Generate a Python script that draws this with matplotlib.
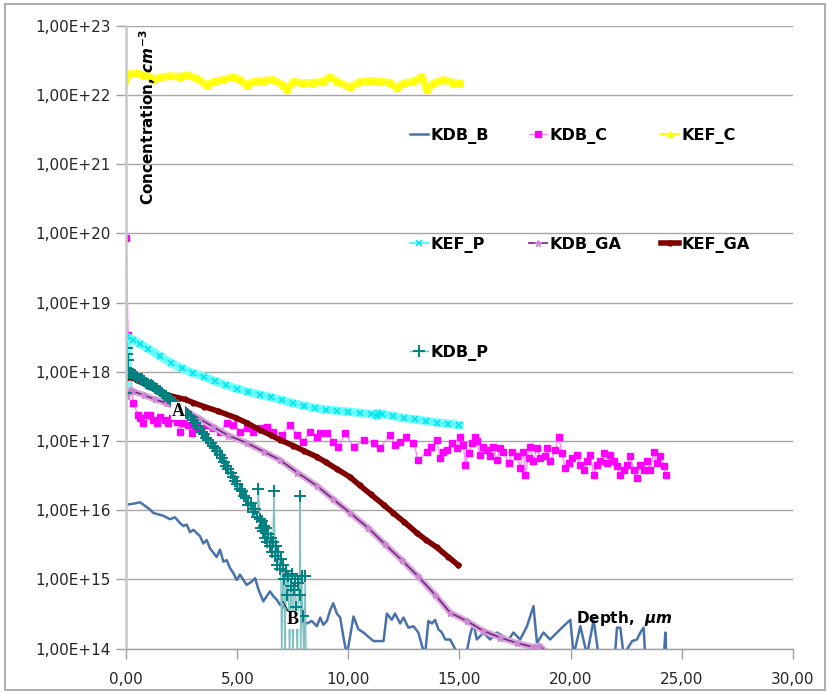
import matplotlib
matplotlib.use("Agg")
import matplotlib.pyplot as plt
from matplotlib.patches import Rectangle

plt.rcParams['font.family'] = ['DejaVu Sans']
plt.rcParams['mathtext.fontset'] = 'custom'
plt.rcParams['mathtext.rm'] = 'DejaVu Sans:bold'
plt.rcParams['mathtext.it'] = 'DejaVu Sans:italic:bold'

# ---- data (depth in um, concentration in cm^-3) ----
kdb_b_x = [0.0, 0.32, 0.62, 0.77, 1.07, 1.22, 1.67, 1.97, 2.19, 2.42, 2.57, 2.72, 2.87, 3.02,
           3.32, 3.47, 3.62, 3.77, 4.07, 4.22, 4.37, 4.52, 4.67, 4.82, 4.97, 5.12, 5.27, 5.42,
           5.65, 5.80, 5.95, 6.17, 6.32, 6.47, 6.62, 6.77, 6.92, 7.07, 7.37, 7.82, 8.13, 8.35,
           8.58, 8.73, 8.87, 9.03, 9.18, 9.32, 9.48, 9.63, 9.77, 9.93, 10.23, 10.45, 10.68,
           11.13, 11.58, 11.73, 11.95, 12.10, 12.33, 12.48, 12.70, 12.93, 13.15, 13.31, 13.45,
           13.60, 13.76, 13.90, 14.05, 14.21, 14.36, 14.58, 14.95, 15.30, 15.48, 15.63, 15.78,
           16.08, 16.38, 16.68, 16.98, 17.21, 17.43, 17.73, 18.04, 18.33, 18.49, 18.78, 19.08,
           19.39, 19.68, 19.99, 20.14, 20.44, 20.74, 21.04, 21.26, 21.70, 22.00, 22.09, 22.24,
           22.39, 22.77, 22.99, 23.14, 23.29, 23.36, 24.20, 24.27, 24.31]
kdb_b_y = [1.2e16, 1.24e16, 1.3e16, 1.2e16, 1.02e16, 9.1e15, 8.3e15, 7.4e15, 7.9e15, 6.5e15,
           5.9e15, 6.2e15, 4.8e15, 5.2e15, 4.2e15, 3.3e15, 3.7e15, 2.8e15, 2.1e15, 2.7e15,
           1.8e15, 1.9e15, 1.45e15, 1.23e15, 9.8e14, 1.17e15, 9.8e14, 8.3e14, 9.3e14, 1.04e15,
           7.1e14, 4.8e14, 5.7e14, 6.7e14, 5.7e14, 5.1e14, 4.3e14, 4.1e14, 3.0e14, 2.5e14,
           2.3e14, 2.5e14, 2.1e14, 2.8e14, 2.2e14, 2.5e14, 3.6e14, 4.5e14, 3.2e14, 2.8e14,
           1.5e14, 8e13, 2.9e14, 1.9e14, 1.7e14, 1.28e14, 1.28e14, 3.2e14, 2.6e14, 3.2e14,
           2.3e14, 2.8e14, 2.0e14, 2.1e14, 1.7e14, 1.1e14, 8e13, 2.5e14, 2.3e14, 2.6e14,
           1.9e14, 1.7e14, 1.35e14, 1.35e14, 8e13, 8e13, 1.6e14, 2.3e14, 1.35e14,
           1.7e14, 1.35e14, 1.7e14, 1.5e14, 1.35e14, 1.7e14, 1.35e14, 2.1e14, 4.1e14, 1.2e14,
           1.7e14, 1.35e14, 1.7e14, 2.1e14, 2.6e14, 8e13, 2.1e14, 8e13, 2.6e14, 8e13, 8e13,
           8e13, 2.0e14, 2.0e14, 8e13, 1.28e14, 1.35e14, 1.7e14, 2.0e14, 8e13, 8e13, 1.7e14, 8e13]

kdb_c_x = [0.0, 0.08, 0.30, 0.54, 0.62, 0.75, 0.92, 1.07, 1.20, 1.37, 1.52, 1.74, 1.89, 2.05,
           2.27, 2.42, 2.57, 2.79, 2.95, 3.09, 3.32, 3.62, 3.92, 4.22, 4.52, 4.82, 5.12, 5.42,
           5.72, 6.02, 6.32, 6.62, 7.00, 7.37, 7.68, 7.97, 8.27, 8.58, 8.73, 9.03, 9.32, 9.55,
           9.85, 10.23, 10.68, 11.13, 11.43, 11.88, 12.10, 12.33, 12.60, 12.93, 13.15, 13.53,
           13.73, 13.98, 14.13, 14.28, 14.43, 14.66, 14.88, 15.03, 15.18, 15.26, 15.41, 15.56,
           15.71, 15.78, 15.93, 16.08, 16.23, 16.38, 16.53, 16.68, 16.83, 16.98, 17.21, 17.36,
           17.59, 17.73, 17.88, 17.96, 18.11, 18.18, 18.33, 18.49, 18.64, 18.86, 18.94, 19.08,
           19.31, 19.46, 19.61, 19.76, 19.91, 20.06, 20.29, 20.44, 20.59, 20.74, 20.89, 21.04,
           21.19, 21.34, 21.49, 21.64, 21.79, 21.94, 22.09, 22.24, 22.39, 22.54, 22.69, 22.84,
           22.99, 23.14, 23.29, 23.44, 23.59, 23.74, 23.89, 24.04, 24.19, 24.31]
kdb_c_y = [8.5e19, 3.4e18, 3.5e17, 2.4e17, 2.16e17, 1.83e17, 2.39e17, 2.39e17, 2.02e17, 1.83e17,
           2.2e17, 2.02e17, 1.83e17, 2.16e17, 1.91e17, 1.37e17, 1.83e17, 1.71e17, 1.3e17, 1.62e17,
           1.54e17, 1.71e17, 1.55e17, 1.37e17, 1.83e17, 1.71e17, 1.37e17, 1.54e17, 1.37e17,
           1.54e17, 1.62e17, 1.37e17, 1.23e17, 1.71e17, 1.23e17, 9.8e16, 1.37e17, 1.16e17,
           1.3e17, 1.3e17, 9.8e16, 8.3e16, 1.3e17, 8.3e16, 1.04e17, 9.3e16, 8.0e16, 1.23e17,
           8.8e16, 9.8e16, 1.15e17, 9.3e16, 5.3e16, 7.0e16, 8.2e16, 1.04e17, 5.7e16, 7.0e16,
           7.5e16, 9.3e16, 8.0e16, 1.16e17, 8.8e16, 4.5e16, 6.7e16, 9.3e16, 1.16e17, 1.0e17,
           6.3e16, 8.3e16, 7.5e16, 6.0e16, 8.3e16, 5.3e16, 7.9e16, 7.0e16, 4.8e16, 7.0e16,
           6.0e16, 4.1e16, 7.0e16, 3.25e16, 5.7e16, 8.3e16, 5.1e16, 7.9e16, 5.7e16, 6.0e16,
           7.9e16, 5.1e16, 7.5e16, 1.16e17, 6.7e16, 4.1e16, 4.8e16, 5.7e16, 6.3e16, 4.5e16,
           3.8e16, 5.1e16, 6.3e16, 3.25e16, 4.5e16, 5.1e16, 6.7e16, 4.8e16, 6.3e16, 5.1e16,
           4.3e16, 3.25e16, 3.8e16, 4.5e16, 6.0e16, 3.8e16, 2.9e16, 4.5e16, 3.8e16, 5.1e16,
           3.8e16, 7.0e16, 4.8e16, 6.0e16, 4.3e16, 3.25e16]

kef_c_x = [0.0, 0.09, 0.47, 0.77, 1.07, 1.22, 1.52, 1.97, 2.42, 2.72, 3.17, 3.62, 3.92, 4.37,
           4.82, 5.12, 5.42, 5.72, 6.17, 6.62, 7.07, 7.23, 7.52, 7.97, 8.42, 8.87, 9.18, 9.48,
           10.08, 10.53, 10.98, 11.43, 11.88, 12.18, 12.48, 12.93, 13.31, 13.53, 13.83, 14.28,
           14.73, 15.03]
kef_c_y = [1.66e22, 2.02e22, 2.07e22, 1.96e22, 1.85e22, 1.66e22, 1.81e22, 1.89e22, 1.85e22,
           1.96e22, 1.75e22, 1.40e22, 1.57e22, 1.66e22, 1.85e22, 1.66e22, 1.40e22, 1.57e22,
           1.62e22, 1.66e22, 1.40e22, 1.19e22, 1.57e22, 1.49e22, 1.52e22, 1.57e22, 1.85e22,
           1.57e22, 1.30e22, 1.57e22, 1.62e22, 1.57e22, 1.52e22, 1.26e22, 1.49e22, 1.57e22,
           1.85e22, 1.19e22, 1.49e22, 1.66e22, 1.52e22, 1.49e22]

kef_p_x = [0.0, 0.05, 0.3, 0.6, 1.0, 1.5, 2.0, 2.5, 3.0, 3.5, 4.0, 4.5, 5.0, 5.5, 6.0, 6.5,
           7.0, 7.5, 8.0, 8.5, 9.0, 9.5, 10.0, 10.5, 11.0, 11.3, 11.35, 11.5, 12.0, 12.5, 13.0,
           13.5, 14.0, 14.5, 15.0]
kef_p_y = [4.5e17, 3.2e18, 2.9e18, 2.55e18, 2.15e18, 1.7e18, 1.35e18, 1.12e18, 9.6e17, 8.5e17,
           7.3e17, 6.4e17, 5.7e17, 5.1e17, 4.7e17, 4.3e17, 3.9e17, 3.5e17, 3.25e17, 3.0e17,
           2.85e17, 2.75e17, 2.65e17, 2.55e17, 2.45e17, 2.3e17, 2.55e17, 2.45e17, 2.3e17,
           2.15e17, 2.05e17, 1.95e17, 1.85e17, 1.78e17, 1.7e17]

kdb_ga_x = [0.05, 0.2, 0.32, 0.8, 1.3, 1.82, 2.3, 2.72, 3.3, 3.91, 4.6, 5.42, 6.2, 6.92, 7.7,
            8.58, 9.3, 10.08, 10.9, 11.65, 12.4, 13.14, 13.9, 14.58, 15.33, 16.07, 16.83, 17.58,
            18.32, 18.6, 18.9]
kdb_ga_y = [4.5e17, 5.5e17, 5.2e17, 4.6e17, 4.0e17, 3.5e17, 3.0e17, 2.7e17, 2.1e17, 1.6e17,
            1.2e17, 9.4e16, 7.0e16, 5.3e16, 3.5e16, 2.25e16, 1.45e16, 9.1e15, 5.5e15, 3.2e15,
            1.9e15, 1.1e15, 6.0e14, 3.3e14, 2.5e14, 1.8e14, 1.44e14, 1.2e14, 1.05e14, 1.1e14,
            9e13]

kef_ga_x = [0.0, 0.17, 0.5, 1.0, 1.5, 1.88, 2.63, 3.0, 3.5, 4.13, 4.94, 5.42, 6.0, 6.5, 6.92,
            7.5, 8.0, 8.58, 9.0, 9.5, 10.08, 10.5, 11.0, 11.58, 12.0, 12.5, 13.08, 13.5, 13.98,
            14.5, 14.95]
kef_ga_y = [8.1e17, 8.5e17, 7.6e17, 6.2e17, 5.2e17, 4.6e17, 4.0e17, 3.6e17, 3.15e17, 2.7e17,
            2.16e17, 1.83e17, 1.45e17, 1.22e17, 1.04e17, 8.6e16, 7.2e16, 5.9e16, 4.9e16, 3.9e16,
            3.0e16, 2.3e16, 1.7e16, 1.2e16, 9.2e15, 6.8e15, 4.7e15, 3.7e15, 2.9e15, 2.1e15,
            1.6e15]

kdb_p_x = [0.0, 0.02, 0.04, 0.06, 0.08, 0.1, 0.2, 0.3, 0.4, 0.5, 0.6, 0.7, 0.8, 0.9, 1.0, 1.1,
           1.2, 1.3, 1.4, 1.5, 1.6, 1.7, 1.8, 1.9, 2.0, 2.1, 2.2, 2.3, 2.4, 2.5, 2.6, 2.7, 2.8,
           2.9, 3.0, 3.1, 3.2, 3.3, 3.4, 3.5, 3.6, 3.7, 3.8, 3.9, 4.0, 4.1, 4.2, 4.3, 4.4, 4.5,
           4.6, 4.7, 4.8, 4.9, 5.0, 5.1, 5.2, 5.3, 5.4, 5.5, 5.6, 5.7, 5.8, 5.9, 5.95, 6.0, 6.05,
           6.1, 6.15, 6.2, 6.25, 6.3, 6.35, 6.4, 6.45, 6.5, 6.55, 6.6, 6.65, 6.7, 6.75, 6.8,
           6.85, 6.9, 6.95, 7.0, 7.05, 7.1, 7.15, 7.2, 7.25, 7.3, 7.35, 7.4, 7.45, 7.5, 7.55,
           7.6, 7.65, 7.7, 7.75, 7.8, 7.82, 7.85, 7.9, 7.95, 8.0, 8.05, 8.1]
kdb_p_y = [5.0e17, 2.2e18, 1.8e18, 1.5e18, 1.0e18, 9.5e17, 9.6e17, 9.4e17, 9.0e17, 8.5e17,
           8.0e17, 7.8e17, 7.3e17, 7.0e17, 6.7e17, 6.5e17, 6.2e17, 5.9e17, 5.6e17, 5.3e17,
           5.0e17, 4.7e17, 4.4e17, 4.2e17, 3.9e17, 3.7e17, 3.5e17, 3.3e17, 3.1e17, 2.9e17,
           2.7e17, 2.55e17, 2.35e17, 2.2e17, 2.0e17, 1.8e17, 1.65e17, 1.5e17, 1.35e17, 1.25e17,
           1.12e17, 1.02e17, 9.3e16, 8.5e16, 7.8e16, 7.1e16, 6.3e16, 5.6e16, 5.0e16, 4.4e16,
           3.9e16, 3.4e16, 3.0e16, 2.6e16, 2.4e16, 2.0e16, 1.9e16, 1.6e16, 1.5e16, 1.2e16,
           1.25e16, 9.5e15, 1.05e16, 8e15, 2.0e16, 7.5e15, 5.5e15,
           7e15, 5e15, 6e15, 4e15, 5.5e15, 3.5e15, 4.5e15, 3e15, 4e15, 2.5e15, 3.5e15, 1.9e16,
           2.2e15, 3e15, 1.6e15, 2.5e15, 1.4e15, 2.0e15, 6e13, 1.6e15, 1.0e15, 5e13, 1.3e15,
           6e14, 1.1e15, 5e13, 8e14, 1.2e15, 5e13, 7e14, 1.0e15, 4e14, 5e13, 9e14, 6e14,
           1.6e16, 5e13, 1.1e15, 3e14, 5e13, 1.1e15, 5e13]

series_names = ['KDB_B', 'KDB_C', 'KEF_C', 'KEF_P', 'KDB_GA', 'KEF_GA', 'KDB_P']
x_ticks = [0, 5, 10, 15, 20, 25, 30]
x_tick_labels = ['0,00', '5,00', '10,00', '15,00', '20,00', '25,00', '30,00']
y_ticks = [1e14, 1e15, 1e16, 1e17, 1e18, 1e19, 1e20, 1e21, 1e22, 1e23]
y_tick_labels = ['1,00E+14', '1,00E+15', '1,00E+16', '1,00E+17', '1,00E+18',
                 '1,00E+19', '1,00E+20', '1,00E+21', '1,00E+22', '1,00E+23']

fig = plt.figure(figsize=(8.27, 6.93), dpi=100)
ax = fig.add_axes([0.1527, 0.0642, 0.8058, 0.8983])

fig.patches.append(Rectangle((0.006, 0.004), 0.991, 0.99, transform=fig.transFigure,
                             fill=False, edgecolor='#a0a0a0', linewidth=1.2))

h_b, = ax.plot(kdb_b_x, kdb_b_y, color='#4a72aa', lw=1.8, label=series_names[0])
h_c, = ax.plot(kdb_c_x, kdb_c_y, color='#ff80ff', lw=0.9, marker='s', ms=4.2,
               mfc='#ff00ff', mec='#ff00ff', label=series_names[1])
# wide pale strokes stand in for the dense marker bands of these series
ax.plot(kef_c_x, kef_c_y, color='#ffff33', lw=5.5, solid_joinstyle='round')
h_kc, = ax.plot(kef_c_x, kef_c_y, color='#ffff00', lw=1.5, marker='^', ms=4.5,
                mfc='#ffff00', mec='#ffff00', label=series_names[2])
ax.plot(kef_p_x, kef_p_y, color='#70ffff', lw=6, solid_joinstyle='round')
h_p, = ax.plot(kef_p_x, kef_p_y, color='#5cf5f5', lw=1.5, marker='x', ms=4,
               mec='#00e5ee', mew=1.2, label=series_names[3])
ax.plot(kdb_ga_x, kdb_ga_y, color='#dba8de', lw=4.5, solid_joinstyle='round')
h_ga, = ax.plot(kdb_ga_x, kdb_ga_y, color='#7a2f86', lw=1.3, marker='*', ms=5,
                mfc='#cc88d0', mec='#cc88d0', label=series_names[4])
h_kga, = ax.plot(kef_ga_x, kef_ga_y, color='#800000', lw=4, marker='o', ms=3.5,
                 mfc='#800000', mec='#800000', label=series_names[5])
h_pp, = ax.plot(kdb_p_x, kdb_p_y, color='#7fbfbf', lw=1.0, marker='+', ms=8,
                mec='#008080', mew=1.4, label=series_names[6])

ax.set_yscale('log')
ax.set_ylim(1e14, 1e23)
ax.set_xlim(0, 30)
ax.set_yticks(y_ticks)
ax.set_yticklabels(y_tick_labels)
ax.minorticks_off()
ax.set_xticks(x_ticks)
ax.set_xticklabels(x_tick_labels)
ax.tick_params(axis='both', direction='out', length=7, width=1, color='#a0a0a0',
               labelsize=11, labelcolor='#262626')
ax.tick_params(axis='x', pad=10)
ax.tick_params(axis='y', pad=4)
ax.grid(axis='y', color='#a6a6a6', lw=1)
ax.set_axisbelow(True)
for s in ['top', 'right']:
    ax.spines[s].set_visible(False)
ax.spines['left'].set_color('#c8c8c8')
ax.spines['left'].set_linewidth(1.8)
ax.spines['bottom'].set_color('#a0a0a0')
ax.spines['bottom'].set_linewidth(1)

ax.text(0.0326, 0.7125, r'Concentration, $\mathit{cm}^{-3}$', rotation=90,
        ha='center', va='bottom', transform=ax.transAxes, fontsize=11, fontweight='bold')
ax.text(0.748, 0.049, r'Depth,  $\mathit{µm}$', ha='center', va='center',
        transform=ax.transAxes, fontsize=11, fontweight='bold')

ax.text(2.34, 2.7e17, 'A', family='Liberation Serif', fontweight='bold', fontsize=13,
        ha='center', va='center', bbox=dict(facecolor='white', edgecolor='none', pad=0.5))
ax.annotate('B', xy=(7.05, 4.8e14), xytext=(7.51, 2.6e14), family='Liberation Serif',
            fontweight='bold', fontsize=13, ha='center', va='center',
            bbox=dict(facecolor='white', edgecolor='none', pad=0.5),
            arrowprops=dict(arrowstyle='-', color='black', lw=0.6, shrinkA=0, shrinkB=0))

order = [h_b, h_p, h_pp, h_c, h_ga, h_kc, h_kga]
ax.legend(handles=order, labels=[h.get_label() for h in order], ncol=3, loc='upper left',
          bbox_to_anchor=(0.4257, 0.836), frameon=False, numpoints=1, borderpad=0,
          borderaxespad=0, handlelength=1.1, handletextpad=0.15, columnspacing=2.5,
          labelspacing=5.74, prop={'weight': 'bold', 'size': 11.6})

fig.savefig('out.png', dpi=100)
